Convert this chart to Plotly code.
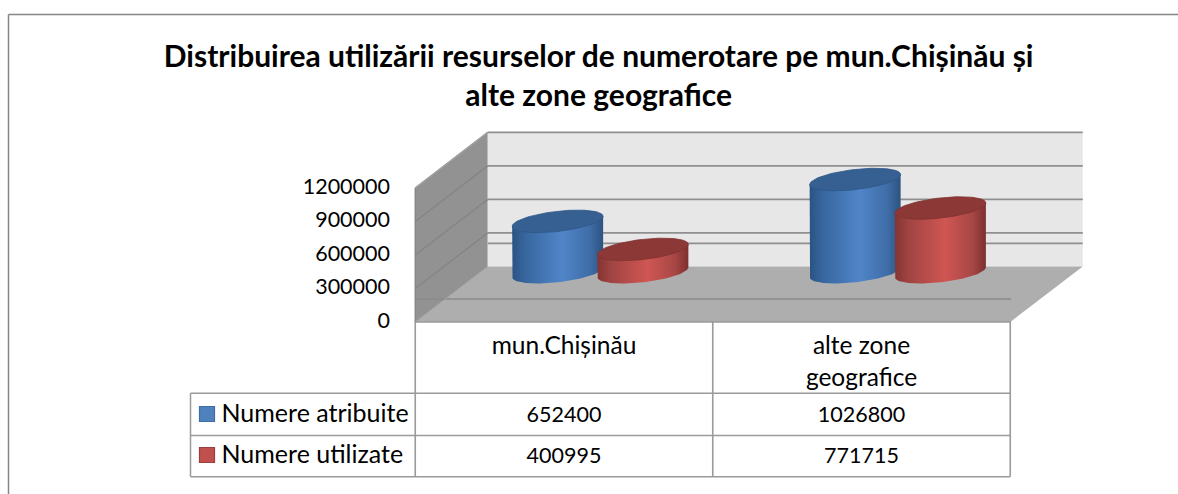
import math
import plotly.graph_objects as go

TITLE_LINES = ["Distribuirea utilizării resurselor de numerotare pe mun.Chișinău și", "alte zone geografice"]
CATEGORY_LINES = [["mun.Chișinău"], ["alte zone", "geografice"]]
SERIES_NAMES = ["Numere atribuite", "Numere utilizate"]
NUMERE_ATRIBUITE = [652400, 1026800]
NUMERE_UTILIZATE = [400995, 771715]
Y_TICKS = [0, 300000, 600000, 900000, 1200000]

W, H = 1178, 494
PX_PER_CAT = 297.5
PX_PER_UNIT = 134 / 1200000
CAT0_PX = 564.0
ZERO_PX = 322.0
DEPTH_X = 72.5 / PX_PER_CAT
DEPTH_V = 55.6 / PX_PER_UNIT
BASE_V = 23 / PX_PER_UNIT
FONT = "Lato"
GRID = "#8f8f8f"
TABLE = "#9a9a9a"


def xp(p):
    return (p - CAT0_PX) / PX_PER_CAT


def yp(p):
    return (ZERO_PX - p) / PX_PER_UNIT


fig = go.Figure()


def poly(xs, ys, color=None, grad=None, line=None, width=0):
    kw = dict(x=xs, y=ys, mode="lines", hoverinfo="skip", showlegend=False,
              line=dict(color=line or "rgba(0,0,0,0)", width=width))
    if color or grad:
        kw["fill"] = "toself"
    if color:
        kw["fillcolor"] = color
    if grad:
        kw["fillgradient"] = dict(type="horizontal", colorscale=grad)
    fig.add_trace(go.Scatter(**kw))


def seg(x0, y0, x1, y1, color=GRID, width=1.6):
    poly([x0, x1], [y0, y1], line=color, width=width)


L, R, TOP = -0.5, 1.5, Y_TICKS[-1]
# outer frame
seg(xp(8.5), yp(14.5), xp(1178), yp(14.5), "#868686", 1.5)
seg(xp(8.5), yp(14.5), xp(8.5), yp(494), "#868686", 1.5)
# walls and floor
poly([L, L + DEPTH_X, L + DEPTH_X, L], [TOP, TOP + DEPTH_V, DEPTH_V, 0], color="#929292")
poly([L + DEPTH_X, R + DEPTH_X, R + DEPTH_X, L + DEPTH_X], [TOP + DEPTH_V, TOP + DEPTH_V, DEPTH_V, DEPTH_V], color="#e7e7e7")
poly([L, R, R + DEPTH_X, L + DEPTH_X], [0, 0, DEPTH_V, DEPTH_V], color="#aeaeae")
# gridlines
for v in Y_TICKS[1:]:
    seg(L, v, L + DEPTH_X, v + DEPTH_V, "#858585", 1.4)
    seg(L + DEPTH_X, v + DEPTH_V, R + DEPTH_X, v + DEPTH_V)
seg(L + DEPTH_X, BASE_V + DEPTH_V, R + DEPTH_X, BASE_V + DEPTH_V)
seg(L, BASE_V, R + 0.003, BASE_V, "#8a8a8a")
seg(L, TOP, L, 0, "#858585", 1.4)
seg(L, TOP, L + DEPTH_X, TOP + DEPTH_V, "#a5a5a5", 1.2)
seg(L, 0, L + DEPTH_X, DEPTH_V, "#a0a0a0", 1)

# cylinders
HALF_W = 45.5 / PX_PER_CAT
TILT = 5 / PX_PER_UNIT
MINOR = 10.1 / PX_PER_UNIT
OFFSET = 42.6 / PX_PER_CAT
STYLES = [
    dict(grad=[[0, "#2a5384"], [0.15, "#38679f"], [0.55, "#5085c8"], [0.85, "#3f6ea8"], [1, "#2c5380"]],
         top="#376092", edge="#2f5788"),
    dict(grad=[[0, "#843432"], [0.15, "#a04442"], [0.55, "#cf5653"], [0.85, "#a84745"], [1, "#7c302e"]],
         top="#8c3836", edge="#7f3230"),
]
N = 48
for c in range(len(NUMERE_ATRIBUITE)):
    for s, values in enumerate([NUMERE_ATRIBUITE, NUMERE_UTILIZATE]):
        cx = c + DEPTH_X / 2 + (-OFFSET if s == 0 else OFFSET)
        top_v = values[c] + DEPTH_V / 2
        base_v = BASE_V + DEPTH_V / 2 - 1 / PX_PER_UNIT
        st = STYLES[s]
        ts = [math.pi * i / N for i in range(N + 1)]
        sx = [cx - HALF_W] + [cx - HALF_W * math.cos(t) for t in ts] + [cx + HALF_W, cx - HALF_W]
        sy = ([top_v - TILT]
              + [base_v - TILT * math.cos(t) - MINOR * math.sin(t) for t in ts]
              + [top_v + TILT, top_v - TILT])
        poly(sx, sy, grad=st["grad"])
        ang = [2 * math.pi * i / (2 * N) for i in range(2 * N + 1)]
        poly([cx + HALF_W * math.cos(t) for t in ang],
             [top_v + TILT * math.cos(t) + MINOR * math.sin(t) for t in ang],
             color=st["top"], line=st["edge"], width=0.8)

# data table
TABLE_TOP, ROW1, ROW2 = 393.3, 435.5, 476.7
for c in [L, 0.5, R]:
    seg(c, yp(321), c, yp(ROW2), TABLE, 1.6)
LEFT = xp(190.5)
for row in [TABLE_TOP, ROW1, ROW2]:
    seg(LEFT, yp(row), R, yp(row), TABLE, 1.5)
seg(LEFT, yp(TABLE_TOP), LEFT, yp(ROW2), TABLE, 1.5)
seg(L, yp(322), R, yp(322), TABLE, 1.6)

tx, ty, tt = [], [], []
for c, lines in enumerate(CATEGORY_LINES):
    for i, t in enumerate(lines):
        tx.append(c)
        ty.append(yp(347.5 + 32 * i))
        tt.append(t)
fig.add_trace(go.Scatter(x=tx, y=ty, text=tt, mode="text", textposition="middle center", hoverinfo="skip",
                         showlegend=False, textfont=dict(family=FONT, size=24.5, color="#000000")))
nx, ny, nt = [], [], []
for c in range(len(NUMERE_ATRIBUITE)):
    nx += [c, c]
    ny += [yp(417), yp(458)]
    nt += [str(NUMERE_ATRIBUITE[c]), str(NUMERE_UTILIZATE[c])]
fig.add_trace(go.Scatter(x=nx, y=ny, text=nt, mode="text", textposition="middle center", hoverinfo="skip",
                         showlegend=False, textfont=dict(family=FONT, size=21.5, color="#000000")))
fig.add_trace(go.Scatter(x=[xp(221.5), xp(221.5)], y=[yp(416), yp(457)], text=SERIES_NAMES, mode="text",
                         textposition="middle right", hoverinfo="skip", showlegend=False,
                         textfont=dict(family=FONT, size=25, color="#000000")))
fig.add_trace(go.Scatter(x=[xp(207), xp(207)], y=[yp(414), yp(455)], mode="markers", hoverinfo="skip", showlegend=False,
                         marker=dict(symbol="square", size=15, color=["#4f81bd", "#c0504d"],
                                     line=dict(color=["#3f6ea6", "#9c3f3c"], width=1.2))))

fig.update_layout(
    width=W, height=H, margin=dict(l=0, r=0, t=0, b=0), paper_bgcolor="white", plot_bgcolor="white",
    showlegend=False, font=dict(family=FONT, color="#000000"),
    title=dict(text="<br>".join(TITLE_LINES), x=0.5082, xanchor="center", y=0.865, yanchor="bottom",
               font=dict(family=FONT, size=30, color="#000000", weight="bold")),
    xaxis=dict(range=[xp(0), xp(W)], visible=False, domain=[0, 1]),
    yaxis=dict(range=[yp(H), yp(0)], domain=[0, 1], anchor="free", position=390 / W, tickvals=Y_TICKS,
               ticktext=[str(v) for v in Y_TICKS], showgrid=False, zeroline=False, showline=False, ticks="",
               ticklabelshift=-2,
               tickfont=dict(family=FONT, size=21.5, color="#000000"), layer="above traces"),
)
fig.write_html("out.html", config=dict(displayModeBar=False),
               post_script="document.body.style.margin='0';document.documentElement.style.overflow='hidden';")
